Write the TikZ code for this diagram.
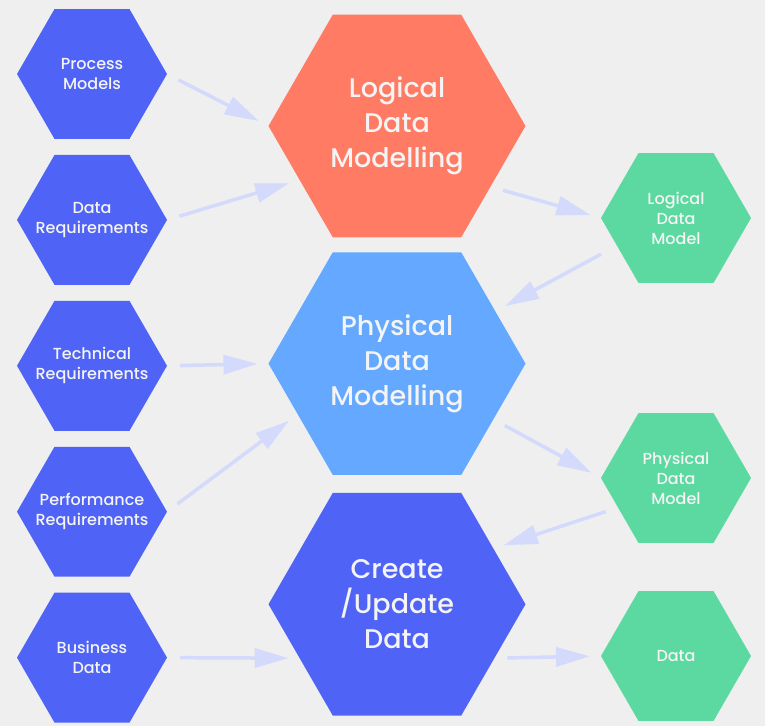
\documentclass[tikz,border=0pt]{standalone}
\usepackage{fontspec}
\setmainfont{Poppins Medium}
\usetikzlibrary{positioning,shapes.geometric,arrows.meta}
\definecolor{hexblue}{HTML}{4F64F6}
\definecolor{hexorange}{HTML}{FF7B64}
\definecolor{hexsky}{HTML}{64A9FF}
\definecolor{hexgreen}{HTML}{5CD8A1}
\definecolor{arrowlav}{HTML}{D4DAFB}
\definecolor{bggrey}{HTML}{EFEFEF}
\definecolor{textwhite}{HTML}{F4F4F4}

\begin{document}
\begin{tikzpicture}[
  x=1pt,y=-1pt,
  hexbase/.style={regular polygon,regular polygon sides=6,
              inner sep=-40pt,outer sep=0pt,text=textwhite,align=center},
  smallhex/.style={hexbase,minimum size=150pt,font=\fontsize{16}{20}\selectfont},
  bighex/.style={hexbase,minimum size=257pt,font=\fontsize{27}{35}\selectfont},
  flow/.style={-{Triangle[length=34pt,width=19pt]},line width=3.5pt,draw=arrowlav,
              shorten <=13pt,shorten >=11pt}
]
  \fill[bggrey] (0,0) rectangle (765,726);
  \useasboundingbox (0,0) rectangle (765,726);

  % inputs
  \node[smallhex, fill=hexblue] (pm) at (92,74) {Process\\Models};
  \node[smallhex, fill=hexblue, below=16pt of pm] (dr) {Data\\Requirements};
  \node[smallhex, fill=hexblue, below=16pt of dr] (tr) {Technical\\Requirements};
  \node[smallhex, fill=hexblue, below=16pt of tr] (pr) {Performance\\Requirements};
  \node[smallhex, fill=hexblue, below=16pt of pr] (bd) {Business\\Data};

  % activities
  \node[bighex, fill=hexorange] (lm) at (397,126) {Logical\\Data\\Modelling};
  \node[bighex, fill=hexsky, below=15pt of lm] (phys) {Physical\\Data\\Modelling};
  \node[bighex, fill=hexblue, below=18pt of phys] (cud) {Create\\/Update\\Data};

  % outputs
  \node[smallhex, fill=hexgreen] (ldm) at (676,218) {Logical\\Data\\Model};
  \node[smallhex, fill=hexgreen] (pdm) at (676,478) {Physical\\Data\\Model};
  \node[smallhex, fill=hexgreen] (data) at (676,656) {Data};

  \draw[flow] (pm.east) -- (lm.west);
  \draw[flow] (dr.east) -- (lm.209);
  \draw[flow] (tr.east) -- (phys.west);
  \draw[flow] (pr.east) -- (phys.207);
  \draw[flow] (bd.east) -- (cud.209);
  \draw[flow] (lm.327) -- (ldm.west);
  \draw[flow,shorten <=18pt] (ldm.205) -- (phys.28);
  \draw[flow] (phys.330) -- (pdm.west);
  \draw[flow] (pdm.207) -- (cud.30);
  \draw[flow] (cud.331) -- (data.west);
\end{tikzpicture}
\end{document}
